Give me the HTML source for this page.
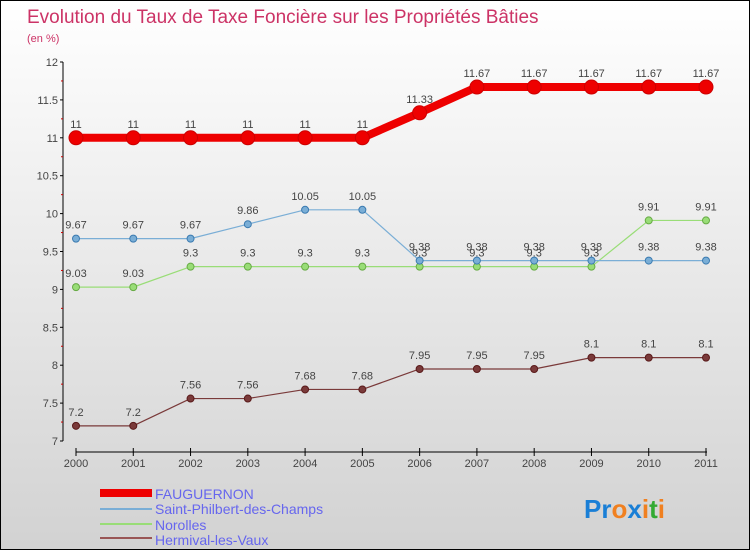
<!DOCTYPE html>
<html><head><meta charset="utf-8"><style>
body{margin:0}
#c{width:748px;height:548px;border:1px solid #000;background:linear-gradient(#ffffff,#d2d2d2);position:relative;font-family:"Liberation Sans",sans-serif;overflow:hidden}
text{font-family:"Liberation Sans",sans-serif}
</style></head><body>
<div id="c">
<svg width="748" height="548" id="svg">
<text x="26" y="22" font-size="19" fill="#cc3366">Evolution du Taux de Taxe Foncière sur les Propriétés Bâties</text>
<text x="26" y="41" font-size="11" fill="#cc3366">(en %)</text>
<g id="plot"></g>
<g id="legend">
<rect x="99" y="488" width="52" height="8" fill="#e00"/>
<text x="154" y="498" font-size="14" fill="#6666ee">FAUGUERNON</text>
<line x1="99" y1="508" x2="151" y2="508" stroke="#7aaed6" stroke-width="2"/>
<text x="154" y="513" font-size="14" fill="#6666ee">Saint-Philbert-des-Champs</text>
<line x1="99" y1="523" x2="151" y2="523" stroke="#99dd77" stroke-width="2"/>
<text x="154" y="529" font-size="14" fill="#6666ee">Norolles</text>
<line x1="99" y1="537" x2="151" y2="537" stroke="#995555" stroke-width="2"/>
<text x="154" y="544" font-size="14" fill="#6666ee">Hermival-les-Vaux</text>
</g>
<text x="583" y="517" font-size="26" font-weight="bold"><tspan fill="#1a7fd6">Pr</tspan><tspan fill="#f08020">o</tspan><tspan fill="#1a7fd6">x</tspan><tspan fill="#f08020">i</tspan><tspan fill="#33aa33">t</tspan><tspan fill="#f08020">i</tspan></text>
</svg>
</div>
<script>
const years=["2000","2001","2002","2003","2004","2005","2006","2007","2008","2009","2010","2011"];
const yTicks=[7,7.5,8,8.5,9,9.5,10,10.5,11,11.5,12];
const fauguernon=[11,11,11,11,11,11,11.33,11.67,11.67,11.67,11.67,11.67];
const saintPhilbert=[9.67,9.67,9.67,9.86,10.05,10.05,9.38,9.38,9.38,9.38,9.38,9.38];
const norolles=[9.03,9.03,9.3,9.3,9.3,9.3,9.3,9.3,9.3,9.3,9.91,9.91];
const hermival=[7.2,7.2,7.56,7.56,7.68,7.68,7.95,7.95,7.95,8.1,8.1,8.1];
const NS="http://www.w3.org/2000/svg";
const g=document.getElementById('plot');
function X(i){return 75+i*(705-75)/(years.length-1);}
function Y(v){return 440-(v-7)*(440-61)/5;}
function mk(t,a){const e=document.createElementNS(NS,t);for(const k in a)e.setAttribute(k,a[k]);g.appendChild(e);return e;}
let ax=mk('line',{x1:62,y1:Y(12),x2:62,y2:Y(7),stroke:'#000','stroke-width':1});


yTicks.forEach(v=>{
 const t=mk('line',{x1:59,x2:62,y1:Y(v),y2:Y(v),stroke:'#000'});
 
 
 const l=mk('text',{x:57,y:Y(v)+4,'font-size':11,fill:'#444','text-anchor':'end'});
 l.textContent=String(v);
 
 
 const m=mk('line',{x1:60,x2:62,y1:Y(v+0.25),y2:Y(v+0.25),stroke:'#c00'});
 if(v<12){}else g.removeChild(m);
});
let xa=mk('line',{x1:75,y1:451,x2:706,y2:451,stroke:'#000','stroke-width':1});


years.forEach((y,i)=>{
 const t=mk('line',{x1:X(i),x2:X(i),y1:447,y2:455,stroke:'#000'});
 
 
 const l=mk('text',{x:X(i),y:466,'font-size':11,fill:'#444','text-anchor':'middle'});
 l.textContent=y;
 
 
});
function series(data,color,w,r,name,dark){
 const pts=data.map((v,i)=>X(i)+','+Y(v)).join(' ');
 const p=mk('polyline',{points:pts,fill:'none',stroke:color,'stroke-width':w,'stroke-linejoin':'round'});
 
 
 data.forEach((v,i)=>{
  const c=mk('circle',{cx:X(i),cy:Y(v),r:r,fill:color,stroke:dark,'stroke-width':1});
  
  
  const l=mk('text',{x:X(i),y:Y(v)-10,'font-size':11,fill:'#444','text-anchor':'middle'});
  l.textContent=String(v);
  
  
 });
}
series(hermival,'#7a3a3a',1.2,3.5,'hermival','#5a1a1a');
series(norolles,'#99dd77',1.2,3.5,'norolles','#66aa44');
series(saintPhilbert,'#7aaed6',1.2,3.5,'saint-philbert','#3a7ab0');
series(fauguernon,'#ee0000',8,7,'fauguernon','#cc0000');
</script>
</body></html>
